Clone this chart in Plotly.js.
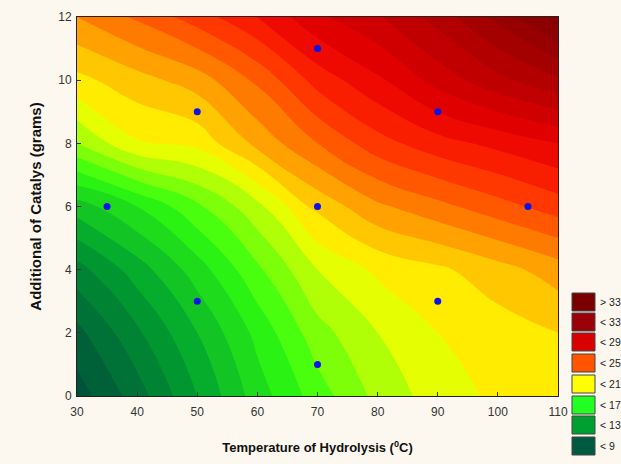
<!DOCTYPE html>
<html>
<head>
<meta charset="utf-8">
<script src="https://cdn.plot.ly/plotly-3.0.1.min.js"></script>
<style>
  html, body { margin: 0; padding: 0; background: #fcf8ef; }
  #chart { width: 621px; height: 464px; }
</style>
</head>
<body>
<div id="chart"></div>
<script>
// ---- Data ----
// Grid of the response surface (temperature in °C, catalyst in grams)
var gridTemperature = [30, 40, 50, 60, 70, 80, 90, 100, 110];
var gridCatalyst = [0, 2, 4, 6, 8, 10, 12];
// Estimated response values, one row per catalyst level (bottom to top)
var row0  = [6.5, 8.5, 11.0, 13.5, 15.5, 17.3, 18.5, 19.2, 19.5];
var row2  = [7.7, 9.8, 12.0, 14.3, 16.6, 18.0, 19.0, 19.5, 20.0];
var row4  = [9.6, 11.5, 13.5, 15.8, 18.0, 19.2, 19.8, 20.6, 21.5];
var row6  = [12.5, 14.0, 15.8, 17.7, 20.3, 21.8, 22.7, 23.6, 24.5];
var row8  = [17.0, 18.9, 19.3, 21.3, 23.0, 24.6, 25.6, 26.3, 27.0];
var row10 = [19.7, 20.6, 21.5, 23.2, 25.4, 26.8, 28.4, 29.7, 30.8];
var row12 = [22.0, 23.2, 24.5, 26.0, 27.8, 28.9, 30.4, 32.3, 34.5];
var responseZ = [row0, row2, row4, row6, row8, row10, row12];

// Experimental design points
var pointTemperature = [35, 50, 50, 70, 70, 70, 90, 90, 105];
var pointCatalyst    = [6, 9, 3, 11, 6, 1, 9, 3, 6];

// Legend labels (top to bottom)
var legendLabels = ['> 33', '< 33', '< 29', '< 25', '< 21', '< 17', '< 13', '< 9'];

// ---- Styling ----
var legendColors = ['#7a0000', '#9a0008', '#d80000', '#ff5500', '#ffff00', '#22ff22', '#00a030', '#005a40'];
var zMin = 6, zMax = 36;
function n(v) { return (v - zMin) / (zMax - zMin); }
var colorscale = [
  [n(6), '#004a3a'], [n(8), '#006838'], [n(11), '#00a030'], [n(15), '#30ff10'],
  [n(19), '#ffff00'], [n(21), '#ffb400'], [n(23), '#ff6800'], [n(25), '#ff2800'],
  [n(27), '#e80000'], [n(30), '#b80000'], [n(33), '#920000'], [n(36), '#720000']
];

var W = 621, H = 464;
var mL = 77, mR = W - 558, mT = 17, mB = H - 396;
var plotW = W - mL - mR, plotH = H - mT - mB;
function px2x(px) { return (px - mL) / plotW; }
function py2y(py) { return (H - mB - py) / plotH; }

var contour = {
  type: 'contour',
  x: gridTemperature,
  y: gridCatalyst,
  z: responseZ,
  zmin: zMin, zmax: zMax,
  colorscale: colorscale,
  showscale: false,
  contours: { coloring: 'fill', start: zMin, end: zMax, size: 1, showlines: false },
  line: { width: 0, smoothing: 1.3 },
  hoverinfo: 'x+y+z'
};

var points = {
  type: 'scatter',
  mode: 'markers',
  x: pointTemperature,
  y: pointCatalyst,
  marker: { color: '#0a14e6', size: 7, line: { width: 0 } },
  showlegend: false
};

var shapes = [], annotations = [];
var boxTops = [293, 313, 333, 354, 375, 396, 416, 437];
for (var i = 0; i < legendLabels.length; i++) {
  var t = boxTops[i];
  shapes.push({
    type: 'rect', xref: 'paper', yref: 'paper',
    x0: px2x(572), x1: px2x(595), y0: py2y(t + 18), y1: py2y(t),
    fillcolor: legendColors[i], line: { color: '#444', width: 1 }
  });
  annotations.push({
    xref: 'paper', yref: 'paper', x: px2x(598), y: py2y(t + 9),
    xanchor: 'left', yanchor: 'middle', showarrow: false,
    text: legendLabels[i], font: { family: 'Liberation Sans, Arial, sans-serif', size: 10.5, color: '#222' }
  });
}

var tickFont = { family: 'Liberation Sans, Arial, sans-serif', size: 12, color: '#333' };
var layout = {
  width: W, height: H,
  margin: { l: mL, r: mR, t: mT, b: mB },
  paper_bgcolor: '#fcf8ef',
  plot_bgcolor: '#fcf8ef',
  showlegend: false,
  xaxis: {
    range: [30, 110], dtick: 10, tick0: 30,
    ticks: 'inside', ticklen: 4, tickcolor: '#333',
    showline: true, linecolor: '#222', linewidth: 1, mirror: true,
    showgrid: false, zeroline: false,
    tickfont: tickFont, ticklabelstandoff: 5,
    title: { text: 'Temperature of Hydrolysis (<sup>0</sup>C)', standoff: 24,
             font: { family: 'Liberation Sans, Arial, sans-serif', size: 13, color: '#111', weight: 'bold' } }
  },
  yaxis: {
    range: [0, 12], dtick: 2, tick0: 0,
    ticks: 'inside', ticklen: 4, tickcolor: '#333',
    showline: true, linecolor: '#222', linewidth: 1, mirror: true,
    showgrid: false, zeroline: false,
    tickfont: tickFont, ticklabelstandoff: 2,
    title: { text: 'Additional of Catalys (grams)', standoff: 12,
             font: { family: 'Liberation Sans, Arial, sans-serif', size: 15, color: '#111', weight: 'bold' } }
  },
  shapes: shapes,
  annotations: annotations
};

Plotly.newPlot('chart', [contour, points], layout, { displayModeBar: false, staticPlot: true });
</script>
</body>
</html>
